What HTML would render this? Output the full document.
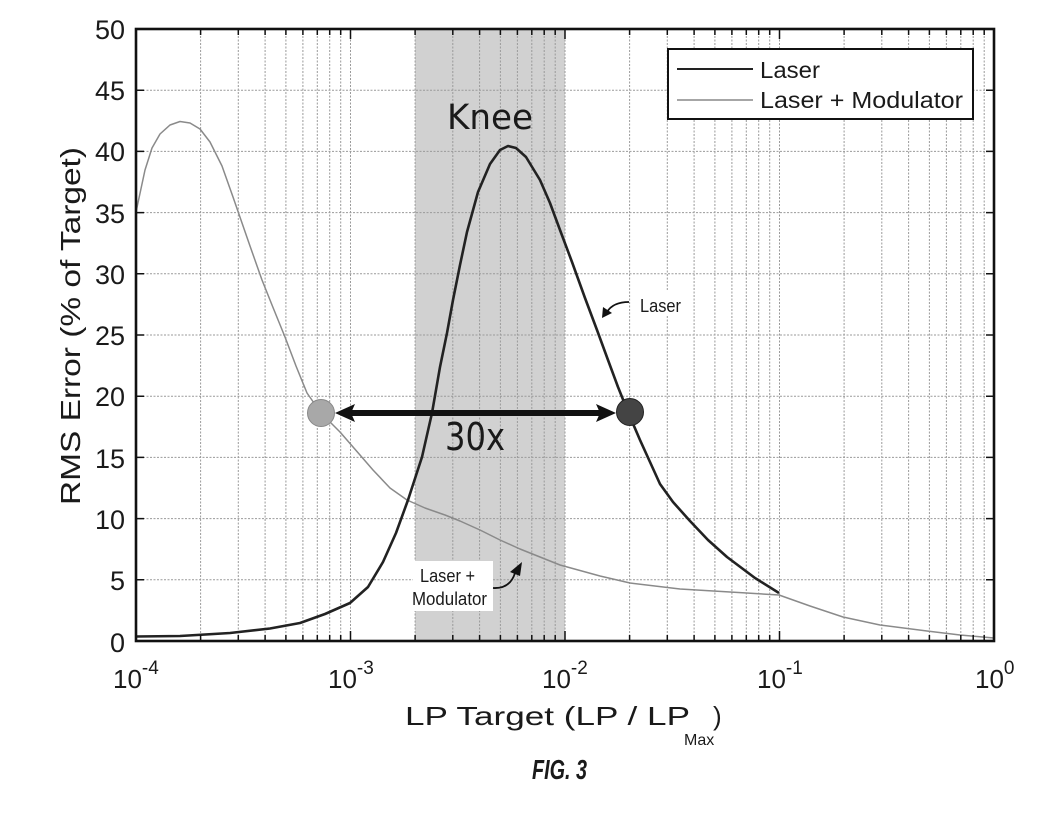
<!DOCTYPE html>
<html><head><meta charset="utf-8"><style>
html,body{margin:0;padding:0;background:#fff;}
svg{display:block;}
text{font-family:"Liberation Sans",Arial,sans-serif;fill:#1a1a1a;}
.dj{font-family:"DejaVu Sans","Liberation Sans",sans-serif;}
</style></head><body>
<svg width="1063" height="828" viewBox="0 0 1063 828" xmlns="http://www.w3.org/2000/svg">
<rect x="0" y="0" width="1063" height="828" fill="#fff"/>
<!-- shaded knee region -->
<rect x="415" y="29" width="150" height="612" fill="#d1d1d1"/>
<!-- grid -->
<g stroke="#9a9a9a" stroke-width="1" stroke-dasharray="2 1.5" fill="none">
<path d="M200.6 29V641M238.3 29V641M265.1 29V641M285.9 29V641M302.9 29V641M317.3 29V641M329.7 29V641M340.7 29V641M350.5 29V641
M415.1 29V641M452.8 29V641M479.6 29V641M500.4 29V641M517.4 29V641M531.8 29V641M544.2 29V641M555.2 29V641M565 29V641
M629.6 29V641M667.3 29V641M694.1 29V641M714.9 29V641M731.9 29V641M746.3 29V641M758.7 29V641M769.7 29V641M779.5 29V641
M844.1 29V641M881.8 29V641M908.6 29V641M929.4 29V641M946.4 29V641M960.8 29V641M973.2 29V641M984.2 29V641"/>
<path d="M136 579.8H994M136 518.6H994M136 457.4H994M136 396.2H994M136 335H994M136 273.8H994M136 212.6H994M136 151.4H994M136 90.2H994"/>
</g>
<!-- annotation white backgrounds -->
<rect x="413" y="561" width="80" height="50" fill="#fff"/>
<rect x="636" y="290" width="48" height="26" fill="#fff"/>
<!-- curves -->
<polyline fill="none" stroke="#8a8a8a" stroke-width="1.5" stroke-linejoin="round" points="136,212 139,198 145,170 152,148 160,134 170,125 180,121.5 190,123 200,129 210,142 222,166 233,197 250,246 262,280 272,305 285,337 296,366 307,393 321,413 340,432 360,455 373,470 390,488 407,500 425,508 445,515 460,521 480,530 500,540 520,549 540,557 560,565 600,576 630,583 680,589 730,592 779,595 810,606 843,617 880,625 927,631 960,635 994,638"/>
<polyline fill="none" stroke="#222" stroke-width="2.6" stroke-linejoin="round" points="136,636.5 180,636 230,633 270,628.5 300,623 325,614 350,603 368,587 383,562 396,533 408,500 422,457 432,413 440,367 447,333 453,300 460,265 467,232 478,192 490,164 500,150 508,146 516,148 526,157 540,180 550,203 560,230 572,262 585,298 597,330 608,360 618,387 628,412 640,440 650,462 660,484 673,502 690,521 708,540 727,557 755,578 779,593"/>
<!-- double arrow -->
<line x1="350" y1="413" x2="600" y2="413" stroke="#111" stroke-width="6"/>
<polygon points="335,413 355,404 351,413 355,422" fill="#111"/>
<polygon points="616,413 596,404 600,413 596,422" fill="#111"/>
<circle cx="321" cy="413" r="13.5" fill="#a8a8a8" stroke="#888" stroke-width="1"/>
<circle cx="630" cy="412" r="13.5" fill="#444" stroke="#222" stroke-width="1"/>
<!-- texts in plot -->
<text class="dj" x="447" y="129" font-size="35" textLength="86" lengthAdjust="spacingAndGlyphs">Knee</text>
<text class="dj" x="445" y="450" font-size="38" textLength="60" lengthAdjust="spacingAndGlyphs">30x</text>
<text x="640" y="312" font-size="18" textLength="41" lengthAdjust="spacingAndGlyphs">Laser</text>
<path d="M629 302 Q613 302 607 312" fill="none" stroke="#111" stroke-width="1.8"/>
<polygon points="602,318 603,307 612,313" fill="#111"/>
<text x="420" y="582" font-size="18" textLength="55" lengthAdjust="spacingAndGlyphs">Laser +</text>
<text x="412" y="605" font-size="18" textLength="75" lengthAdjust="spacingAndGlyphs">Modulator</text>
<path d="M493 588 Q510 589 515 573" fill="none" stroke="#111" stroke-width="1.8"/>
<polygon points="522,562 510,572 520,576" fill="#111"/>
<!-- legend -->
<rect x="668" y="49" width="305" height="70" fill="#fff" stroke="#111" stroke-width="2"/>
<line x1="677" y1="69" x2="753" y2="69" stroke="#222" stroke-width="2"/>
<line x1="677" y1="100" x2="753" y2="100" stroke="#888" stroke-width="1.5"/>
<text x="760" y="78" font-size="23" textLength="60" lengthAdjust="spacingAndGlyphs">Laser</text>
<text x="760" y="108" font-size="23" textLength="203" lengthAdjust="spacingAndGlyphs">Laser + Modulator</text>
<!-- ticks -->
<g stroke="#111" stroke-width="1.5" fill="none">
<path d="M200.6 641v-6M238.3 641v-6M265.1 641v-6M285.9 641v-6M302.9 641v-6M317.3 641v-6M329.7 641v-6M340.7 641v-6M350.5 641v-10
M415.1 641v-6M452.8 641v-6M479.6 641v-6M500.4 641v-6M517.4 641v-6M531.8 641v-6M544.2 641v-6M555.2 641v-6M565 641v-10
M629.6 641v-6M667.3 641v-6M694.1 641v-6M714.9 641v-6M731.9 641v-6M746.3 641v-6M758.7 641v-6M769.7 641v-6M779.5 641v-10
M844.1 641v-6M881.8 641v-6M908.6 641v-6M929.4 641v-6M946.4 641v-6M960.8 641v-6M973.2 641v-6M984.2 641v-6"/>
<path d="M200.6 29v6M238.3 29v6M265.1 29v6M285.9 29v6M302.9 29v6M317.3 29v6M329.7 29v6M340.7 29v6M350.5 29v10
M415.1 29v6M452.8 29v6M479.6 29v6M500.4 29v6M517.4 29v6M531.8 29v6M544.2 29v6M555.2 29v6M565 29v10
M629.6 29v6M667.3 29v6M694.1 29v6M714.9 29v6M731.9 29v6M746.3 29v6M758.7 29v6M769.7 29v6M779.5 29v10
M844.1 29v6M881.8 29v6M908.6 29v6M929.4 29v6M946.4 29v6M960.8 29v6M973.2 29v6M984.2 29v6"/>
<path d="M136 579.8h8M136 518.6h8M136 457.4h8M136 396.2h8M136 335h8M136 273.8h8M136 212.6h8M136 151.4h8M136 90.2h8
M994 579.8h-8M994 518.6h-8M994 457.4h-8M994 396.2h-8M994 335h-8M994 273.8h-8M994 212.6h-8M994 151.4h-8M994 90.2h-8"/>
</g>
<!-- axes box -->
<rect x="136" y="29" width="858" height="612" fill="none" stroke="#111" stroke-width="2.6"/>
<!-- y tick labels -->
<g font-size="27" text-anchor="end">
<text x="125" y="652">0</text>
<text x="125" y="590">5</text>
<text x="125" y="529">10</text>
<text x="125" y="468">15</text>
<text x="125" y="406">20</text>
<text x="125" y="345">25</text>
<text x="125" y="284">30</text>
<text x="125" y="223">35</text>
<text x="125" y="161">40</text>
<text x="125" y="100">45</text>
<text x="125" y="39">50</text>
</g>
<!-- x tick labels -->
<g font-size="26">
<text x="113" y="688">10<tspan dy="-14" font-size="19">-4</tspan></text>
<text x="328" y="688">10<tspan dy="-14" font-size="19">-3</tspan></text>
<text x="542" y="688">10<tspan dy="-14" font-size="19">-2</tspan></text>
<text x="757" y="688">10<tspan dy="-14" font-size="19">-1</tspan></text>
<text x="975" y="688">10<tspan dy="-14" font-size="19">0</tspan></text>
</g>
<!-- axis titles -->
<text x="405" y="725" font-size="26" textLength="285" lengthAdjust="spacingAndGlyphs">LP Target  (LP / LP</text>
<text x="684" y="745" font-size="16">Max</text>
<text x="713" y="725" font-size="26">)</text>
<text transform="translate(80,326) rotate(-90)" x="0" y="0" font-size="28" text-anchor="middle" textLength="358" lengthAdjust="spacingAndGlyphs">RMS Error  (% of Target)</text>
<!-- figure caption -->
<text x="532" y="779" font-size="28" font-weight="bold" font-style="italic" textLength="55" lengthAdjust="spacingAndGlyphs">FIG. 3</text>
</svg>
</body></html>
